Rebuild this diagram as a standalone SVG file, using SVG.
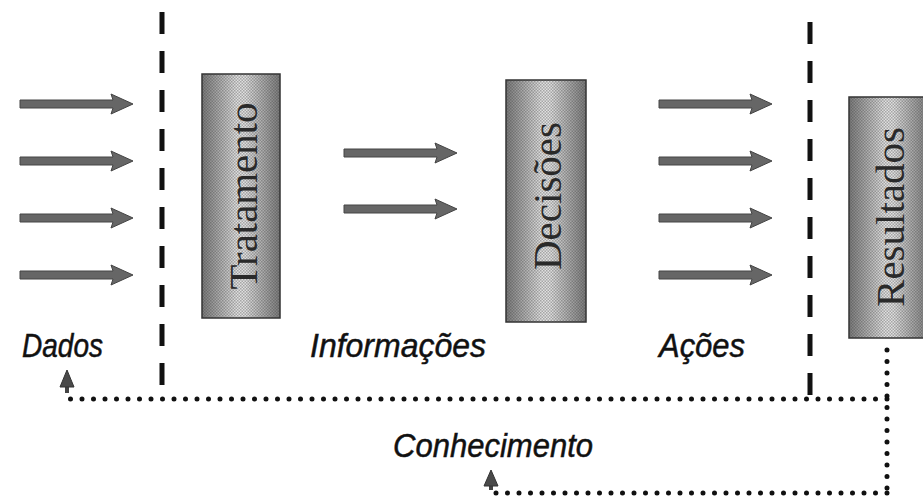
<svg xmlns="http://www.w3.org/2000/svg" width="923" height="503" viewBox="0 0 923 503">
  <defs>
    <!-- horizontal shading for the stage boxes: dark edges, light middle -->
    <linearGradient id="boxShade" x1="0" y1="0" x2="1" y2="0">
      <stop offset="0" stop-color="#7a7a7a"/>
      <stop offset="0.45" stop-color="#e0e0e0"/>
      <stop offset="0.55" stop-color="#e0e0e0"/>
      <stop offset="1" stop-color="#7a7a7a"/>
    </linearGradient>
    <!-- fine halftone grain laid over the shading -->
    <pattern id="grain" width="3" height="3" patternUnits="userSpaceOnUse">
      <rect x="0" y="0" width="1.5" height="1.5" fill="#3a3a3a" fill-opacity="0.35"/>
      <rect x="1.5" y="1.5" width="1.5" height="1.5" fill="#3a3a3a" fill-opacity="0.35"/>
    </pattern>
    <!-- thick grey block arrow, tip at (0,0), pointing right -->
    <path id="blockArrow" d="M-113,-4 L-20,-4 L-22,-10 L0,0 L-22,10 L-20,4 L-113,4 Z"/>
  </defs>
  <style>
    .box { stroke: #333; stroke-width: 1.5; }
    .boxText { font-family: "Liberation Serif", "Times New Roman", serif; font-size: 41px; fill: #2a2a2a; }
    .label { font-family: "Liberation Sans", Arial, sans-serif; font-style: italic; font-size: 34px; fill: #111; stroke: #111; stroke-width: 0.5; }
    .arrow { fill: #666; stroke: #444; stroke-width: 1; }
    .divider { stroke: #111; stroke-width: 5; stroke-dasharray: 22 17; fill: none; }
    .dots { stroke: #111; stroke-width: 5; stroke-linecap: round; stroke-dasharray: 0 11.5; fill: none; }
    .head { fill: #4a4a4a; stroke: #333; stroke-width: 1; stroke-linejoin: round; }
  </style>

  <rect width="923" height="503" fill="#ffffff"/>

  <!-- stage boxes -->
  <g id="tratamento">
    <rect class="box" x="202" y="74" width="78" height="244" fill="url(#boxShade)"/>
    <rect x="202" y="74" width="78" height="244" fill="url(#grain)"/>
    <text class="boxText" transform="translate(257,196) rotate(-90)" text-anchor="middle" textLength="187" lengthAdjust="spacingAndGlyphs">Tratamento</text>
  </g>
  <g id="decisoes">
    <rect class="box" x="506" y="80" width="80" height="242" fill="url(#boxShade)"/>
    <rect x="506" y="80" width="80" height="242" fill="url(#grain)"/>
    <text class="boxText" transform="translate(561,196) rotate(-90)" text-anchor="middle">Decisões</text>
  </g>
  <g id="resultados">
    <rect class="box" x="849" y="97" width="80" height="241" fill="url(#boxShade)"/>
    <rect x="849" y="97" width="80" height="241" fill="url(#grain)"/>
    <text class="boxText" transform="translate(904,217) rotate(-90)" text-anchor="middle">Resultados</text>
  </g>

  <!-- labels -->
  <g id="dados"><text class="label" x="22" y="357" textLength="81" lengthAdjust="spacingAndGlyphs">Dados</text></g>
  <g id="informacoes"><text class="label" x="310" y="357" textLength="176" lengthAdjust="spacingAndGlyphs">Informações</text></g>
  <g id="acoes"><text class="label" x="659" y="357" textLength="86" lengthAdjust="spacingAndGlyphs">Ações</text></g>
  <g id="conhecimento"><text class="label" x="393" y="457" textLength="200" lengthAdjust="spacingAndGlyphs">Conhecimento</text></g>

  <!-- connectors -->
  <g id="connectors">
    <!-- dashed boundaries -->
    <line class="divider" x1="162" y1="12" x2="162" y2="386"/>
    <line class="divider" x1="810" y1="22" x2="810" y2="396"/>

    <!-- data flows -->
    <use href="#blockArrow" class="arrow" x="133" y="104"/>
    <use href="#blockArrow" class="arrow" x="133" y="161"/>
    <use href="#blockArrow" class="arrow" x="133" y="218"/>
    <use href="#blockArrow" class="arrow" x="133" y="275"/>

    <!-- information flows -->
    <use href="#blockArrow" class="arrow" x="457" y="153"/>
    <use href="#blockArrow" class="arrow" x="457" y="209"/>

    <!-- action flows -->
    <use href="#blockArrow" class="arrow" x="772" y="104"/>
    <use href="#blockArrow" class="arrow" x="772" y="161"/>
    <use href="#blockArrow" class="arrow" x="772" y="218"/>
    <use href="#blockArrow" class="arrow" x="772" y="275"/>

    <!-- feedback loop from results -->
    <path class="dots" d="M887,350 L887,493"/>
    <path class="dots" d="M887,399 L68,399"/>
    <path class="dots" d="M887,493 L490,493"/>
    <line x1="67" y1="384" x2="67" y2="393" stroke="#444" stroke-width="4"/>
    <path class="head" d="M67,370 L74,387 L60,387 Z"/>
    <line x1="491" y1="484" x2="491" y2="490" stroke="#444" stroke-width="4"/>
    <path class="head" d="M491,470 L498,486 L484,486 Z"/>
  </g>
</svg>
